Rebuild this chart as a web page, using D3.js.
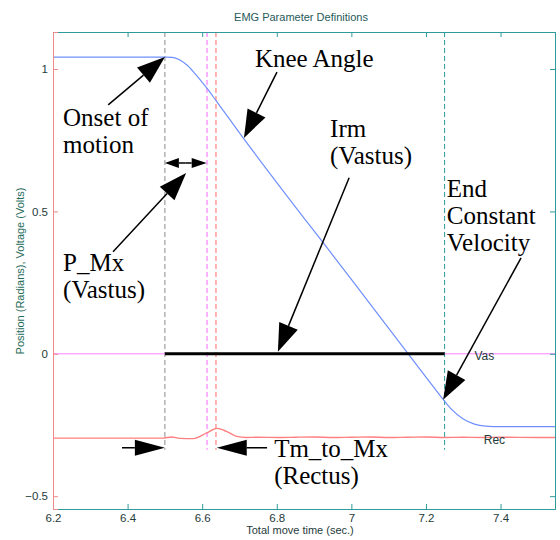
<!DOCTYPE html>
<html>
<head>
<meta charset="utf-8">
<script src="https://cdn.jsdelivr.net/npm/d3@7"></script>
<style>
  body { margin: 0; background: #fff; }
  svg { display: block; }
  .tick text { font-family: "Liberation Sans", Arial, sans-serif; font-size: 11.5px; fill: #1f3b3b; }
  .note { font-family: "Liberation Serif", "Times New Roman", serif; font-size: 25px; fill: #000; }
</style>
</head>
<body>
<svg id="svg" width="560" height="540"></svg>
<script>
const w = 560;
const h = 540;
const margin = { left: 53, right: 5, top: 32, bottom: 31 };

// knee angle (rad) vs time (s)
const kneeT = [6.2, 6.5, 6.52, 6.54, 6.56, 6.58, 6.61, 6.64, 6.7, 7.0, 7.2, 7.24, 7.27, 7.3, 7.33, 7.36, 7.4, 7.546];
const kneeV = [1.042, 1.042, 1.041, 1.032, 1.013, 0.985, 0.937, 0.884, 0.776, 0.261, -0.082, -0.150, -0.197, -0.229, -0.247, -0.254, -0.256, -0.256];

// vastus trace (flat at 0)
const vasT = [6.2, 7.546];
const vasV = [0, 0];

// rectus trace
const recT = [6.2, 6.495, 6.518, 6.54, 6.576, 6.612, 6.639, 6.666, 6.692, 6.719, 6.746, 6.81, 6.85, 6.9, 6.95, 7.0, 7.05, 7.1, 7.15, 7.2, 7.25, 7.3, 7.35, 7.4, 7.5, 7.546];
const recV = [-0.296, -0.296, -0.292, -0.297, -0.298, -0.278, -0.262, -0.273, -0.29, -0.294, -0.293, -0.294, -0.293, -0.292, -0.294, -0.293, -0.292, -0.294, -0.293, -0.292, -0.294, -0.293, -0.294, -0.293, -0.294, -0.294];

// Irm bar
const irmT = [6.5, 7.25];
const irmV = [0, 0];

// event markers (time, colour)
const eventT = [6.5, 6.613, 6.637, 7.25];
const eventColor = ["#8a8a8a", "#ff66ff", "#ff6666", "#2a9a9a"];
const eventTop = 1.13;
const eventBottom = -0.337;

const xTicks = [6.2, 6.4, 6.6, 6.8, 7, 7.2, 7.4];
const yTicks = [-0.5, 0, 0.5, 1];

let svg = d3.select("#svg");

let xScale = d3.scaleLinear([6.2, 7.546], [margin.left, w - margin.right]);
let yScale = d3.scaleLinear([-0.545, 1.13], [h - margin.bottom, margin.top]);

const teal = "#2f9b9b";

// title
svg.append("text")
  .attr("x", 301).attr("y", 21)
  .attr("text-anchor", "middle")
  .attr("font-family", "Liberation Sans, Arial, sans-serif")
  .attr("font-size", 11)
  .attr("fill", "#265959")
  .text("EMG Parameter Definitions");

// event dashed lines
eventT.forEach((t, i) => {
  svg.append("line")
    .attr("x1", xScale(t)).attr("x2", xScale(t))
    .attr("y1", yScale(eventTop)).attr("y2", yScale(eventBottom))
    .attr("stroke", eventColor[i])
    .attr("stroke-width", 1)
    .attr("stroke-dasharray", "5,3");
});

let line = d3.line()
  .x((d) => xScale(d[0]))
  .y((d) => yScale(d[1]));

const drawSeries = (ts, vs, color, width, curve) => {
  const pts = ts.map((t, i) => [t, vs[i]]);
  svg.append("path")
    .attr("fill", "none")
    .attr("stroke", color)
    .attr("stroke-width", width)
    .attr("d", line.curve(curve)(pts));
};

drawSeries(vasT, vasV, "#ff80ff", 1, d3.curveLinear);
drawSeries(recT, recV, "#ff8080", 1.4, d3.curveMonotoneX);
drawSeries(kneeT, kneeV, "#6f8fff", 1.2, d3.curveMonotoneX);
drawSeries(irmT, irmV, "#000", 3, d3.curveLinear);

// trace labels
const traceLabel = (txt, t, v) => {
  svg.append("text")
    .attr("x", xScale(t)).attr("y", yScale(v))
    .attr("font-family", "Liberation Sans, Arial, sans-serif")
    .attr("font-size", 12)
    .attr("fill", "#1f3b3b")
    .text(txt);
};
traceLabel("Vas", 7.33, -0.022);
traceLabel("Rec", 7.355, -0.318);

// axes: box with inward ticks
let axisB = d3.axisBottom(xScale).tickValues(xTicks).tickSize(-5).tickPadding(5).tickFormat(d3.format("~g"));
let axisT = d3.axisTop(xScale).tickValues(xTicks).tickSize(-5).tickFormat("");
let axisL = d3.axisLeft(yScale).tickValues(yTicks).tickSize(-5).tickPadding(5).tickFormat(d3.format("~g"));
let axisR = d3.axisRight(yScale).tickValues(yTicks).tickSize(-5).tickFormat("");

const styleAxis = (g, col) => {
  g.selectAll("path").attr("stroke", col).attr("stroke-width", 1);
  g.selectAll("line").attr("stroke", col);
};

svg.append("g").attr("transform", `translate(0,${h - margin.bottom})`).call(axisB).call((g) => styleAxis(g, teal));
svg.append("g").attr("transform", `translate(0,${margin.top})`).call(axisT).call((g) => styleAxis(g, teal));
svg.append("g").attr("transform", `translate(${margin.left},0)`).call(axisL).call((g) => styleAxis(g, "#f08a8a"));
svg.append("g").attr("transform", `translate(${w - margin.right},0)`).call(axisR).call((g) => styleAxis(g, teal));

svg.selectAll(".tick text").attr("font-size", null).attr("font-family", null);

// axis titles
svg.append("text")
  .attr("x", 300).attr("y", 534)
  .attr("text-anchor", "middle")
  .attr("font-family", "Liberation Sans, Arial, sans-serif")
  .attr("font-size", 11)
  .attr("fill", "#1f3b3b")
  .text("Total move time (sec.)");

svg.append("text")
  .attr("transform", "translate(24,271) rotate(-90)")
  .attr("text-anchor", "middle")
  .attr("font-family", "Liberation Sans, Arial, sans-serif")
  .attr("font-size", 11)
  .attr("fill", "#1f6b5b")
  .text("Position (Radians), Voltage (Volts)");

// annotations
const notes = [
  { lines: ["Knee Angle"], t: 6.7415, v: 1.007 },
  { lines: ["Onset of", "motion"], t: 6.227, v: 0.8 },
  { lines: ["Irm", "(Vastus)"], t: 6.943, v: 0.761 },
  { lines: ["End", "Constant", "Velocity"], t: 7.256, v: 0.551 },
  { lines: ["P_Mx", "(Vastus)"], t: 6.227, v: 0.291 },
  { lines: ["Tm_to_Mx", "(Rectus)"], t: 6.793, v: -0.361 },
];

notes.forEach((n) => {
  let txt = svg.append("text").attr("class", "note").attr("x", xScale(n.t)).attr("y", yScale(n.v));
  n.lines.forEach((s, i) => {
    txt.append("tspan").attr("x", xScale(n.t)).attr("dy", i === 0 ? 0 : 27).text(s);
  });
});

// arrows: tail -> tip, in data units
const arrows = [
  { from: [6.348, 0.874], to: [6.5, 1.042], head: 28, half: 10 },
  { from: [6.8005, 0.989], to: [6.712, 0.758], head: 28, half: 10 },
  { from: [6.994, 0.618], to: [6.803, 0.007], head: 28, half: 10 },
  { from: [7.455, 0.337], to: [7.246, -0.161], head: 28, half: 10 },
  { from: [6.361, 0.358], to: [6.557, 0.635], head: 28, half: 10 },
  { from: [6.556, 0.67], to: [6.5, 0.67], head: 14, half: 5 },
  { from: [6.556, 0.67], to: [6.612, 0.67], head: 15, half: 5 },
  { from: [6.385, -0.33], to: [6.5, -0.33], head: 30, half: 8 },
  { from: [6.774, -0.33], to: [6.639, -0.33], head: 30, half: 8 },
];

arrows.forEach((a) => {
  const x0 = xScale(a.from[0]), y0 = yScale(a.from[1]);
  const x1 = xScale(a.to[0]), y1 = yScale(a.to[1]);
  const len = Math.hypot(x1 - x0, y1 - y0);
  const ux = (x1 - x0) / len, uy = (y1 - y0) / len;
  const bx = x1 - ux * a.head, by = y1 - uy * a.head;
  svg.append("line")
    .attr("x1", x0).attr("y1", y0).attr("x2", bx).attr("y2", by)
    .attr("stroke", "#000").attr("stroke-width", 1.5);
  svg.append("path")
    .attr("d", `M${x1},${y1}L${bx - uy * a.half},${by + ux * a.half}L${bx + uy * a.half},${by - ux * a.half}Z`)
    .attr("fill", "#000");
});
</script>
</body>
</html>
